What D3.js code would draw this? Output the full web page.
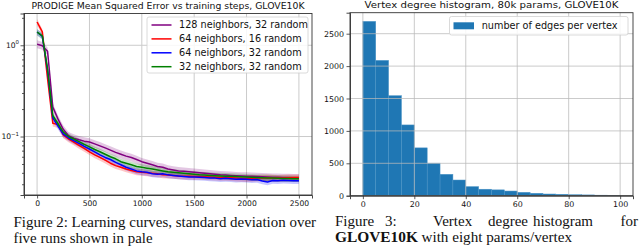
<!DOCTYPE html>
<html><head><meta charset="utf-8">
<script src="https://cdn.jsdelivr.net/npm/d3@7"></script>
<style>
html,body{margin:0;padding:0;background:#fff;}
svg{display:block;}
</style></head>
<body>
<svg id="c" width="640" height="248"></svg>
<script>
// ---------- DATA ----------
const steps = [0,50,100,150,200,250,300,350,400,450,500,550,600,650,700,750,800,850,900,950,1000,1050,1100,1150,1200,1250,1300,1350,1400,1450,1500,1550,1600,1650,1700,1750,1800,1850,1900,1950,2000,2050,2100,2150,2200,2250,2300,2350,2400,2450,2500];
const seriesNames = ["128 neighbors, 32 random","64 neighbors, 16 random","64 neighbors, 32 random","32 neighbors, 32 random"];
const purple128 = [1.03,0.99,0.86,0.21,0.155,0.12,0.102,0.096,0.092,0.089,0.087,0.083,0.079,0.075,0.071,0.067,0.064,0.061,0.059,0.056,0.053,0.051,0.049,0.047,0.046,0.044,0.043,0.042,0.0415,0.041,0.0405,0.040,0.0395,0.039,0.0385,0.038,0.0378,0.0375,0.0372,0.037,0.0368,0.0366,0.0364,0.0362,0.036,0.0358,0.0357,0.0356,0.0355,0.0354,0.0353];
const red64_16 = [1.8,1.4,0.43,0.14,0.135,0.104,0.094,0.087,0.08,0.074,0.068,0.063,0.059,0.055,0.051,0.048,0.046,0.044,0.0425,0.041,0.0405,0.04,0.0395,0.039,0.038,0.0378,0.0375,0.037,0.0368,0.0366,0.0365,0.0364,0.0362,0.036,0.0358,0.0356,0.0355,0.0353,0.035,0.0348,0.0346,0.0348,0.035,0.0352,0.0354,0.0352,0.035,0.0352,0.0354,0.0355,0.0355];
const blue64_32 = [1.4,1.25,0.53,0.16,0.13,0.106,0.097,0.09,0.084,0.078,0.073,0.068,0.063,0.059,0.056,0.052,0.049,0.046,0.044,0.042,0.041,0.0405,0.039,0.0385,0.039,0.038,0.0375,0.037,0.0365,0.036,0.036,0.0358,0.0356,0.0352,0.035,0.0345,0.0348,0.0345,0.034,0.0342,0.034,0.0336,0.0338,0.0325,0.0318,0.033,0.0328,0.0332,0.033,0.0327,0.0328];
const green32_32 = [1.39,1.27,0.55,0.17,0.138,0.112,0.1,0.094,0.088,0.082,0.077,0.072,0.068,0.064,0.06,0.057,0.053,0.051,0.049,0.047,0.046,0.045,0.044,0.043,0.042,0.041,0.0405,0.04,0.0395,0.039,0.0385,0.038,0.0378,0.0375,0.0372,0.037,0.0368,0.0366,0.0364,0.0362,0.036,0.0358,0.0356,0.0354,0.0352,0.035,0.0348,0.0347,0.0346,0.0345,0.0344];
const relStd = [0.10,0.08,0.08,0.08];
const lineColors = ["#800080","#ff0000","#0000ff","#008000"];
const xTicksL = [0,500,1000,1500,2000,2500];
const yTicksL = [1,0.1];

const binEdges = [0,5,10,15,20,25,30,35,40,45,50,55,60,65,70,75,80,85,90,95,100];
const binCounts = [2690,2088,1543,1092,738,502,330,242,140,100,90,72,52,37,26,22,15,12,8,5];
const xTicksR = [0,20,40,60,80,100];
const yTicksR = [0,500,1000,1500,2000,2500];

// ---------- DRAW ----------
const svg = d3.select("#c");
const FONT = "DejaVu Sans, sans-serif";
const gridColor = "#cbcbcb";
const spineColor = "#333";

// ---- Left chart ----
const L = {x0:24, x1:312, y0:13.5, y1:195};
const xL = d3.scaleLinear().domain([-125,2625]).range([L.x0,L.x1]);
const yL = d3.scaleLog().domain([0.02286,2.23]).range([L.y1,L.y0]);
const gL = svg.append("g");
svg.append("clipPath").attr("id","clipL").append("rect")
  .attr("x",L.x0).attr("y",L.y0).attr("width",L.x1-L.x0).attr("height",L.y1-L.y0);

gL.append("g").selectAll("line").data(xTicksL).join("line")
  .attr("x1",d=>xL(d)).attr("x2",d=>xL(d)).attr("y1",L.y0).attr("y2",L.y1)
  .attr("stroke",gridColor).attr("stroke-width",1);
gL.append("g").selectAll("line").data(yTicksL).join("line")
  .attr("y1",d=>yL(d)).attr("y2",d=>yL(d)).attr("x1",L.x0).attr("x2",L.x1)
  .attr("stroke",gridColor).attr("stroke-width",1);

const seriesData = [purple128, red64_16, blue64_32, green32_32];
const plotL = gL.append("g").attr("clip-path","url(#clipL)");
seriesData.forEach((vals,i)=>{
  const pts = steps.map((s,j)=>({s, v:vals[j]}));
  const area = d3.area().x(d=>xL(d.s)).y0(d=>yL(d.v*(1-relStd[i]))).y1(d=>yL(d.v*(1+relStd[i])));
  plotL.append("path").attr("d",area(pts)).attr("fill",lineColors[i]).attr("fill-opacity",0.22);
});
seriesData.forEach((vals,i)=>{
  const pts = steps.map((s,j)=>({s, v:vals[j]}));
  const line = d3.line().x(d=>xL(d.s)).y(d=>yL(d.v));
  plotL.append("path").attr("d",line(pts)).attr("fill","none")
    .attr("stroke",lineColors[i]).attr("stroke-width",1.5).attr("stroke-linejoin","round");
});

const axXL = d3.axisBottom(xL).tickValues(xTicksL).tickSize(3.5).tickPadding(2.5).tickFormat(d3.format("d"));
gL.append("g").attr("class","axL").attr("transform",`translate(0,${L.y1})`).call(axXL);
const minorVals = [];
[0.01,0.1,1].forEach(dec=>{for(let k=2;k<=9;k++){const v=dec*k; if(v>0.02286&&v<2.23) minorVals.push(v);}});
gL.append("g").attr("transform",`translate(${L.x0},0)`)
  .call(d3.axisLeft(yL).tickValues(yTicksL).tickSize(3.5).tickFormat(""));
const gyLm = gL.append("g").attr("transform",`translate(${L.x0},0)`)
  .call(d3.axisLeft(yL).tickValues(minorVals).tickSize(2).tickFormat(""));
gyLm.select(".domain").remove();
gL.append("g").selectAll("text").data(yTicksL).join("text")
  .attr("x",L.x0-5).attr("y",d=>yL(d)+2.6).attr("text-anchor","end")
  .attr("font-family",FONT).attr("font-size",7.6).attr("fill","#111")
  .each(function(d){
    const t=d3.select(this);
    t.append("tspan").text("10");
    t.append("tspan").attr("dy",-3.6).attr("font-size",5.4).text(d===1?"0":"\u22121");
  });
gL.append("rect").attr("x",L.x0).attr("y",L.y0).attr("width",L.x1-L.x0).attr("height",L.y1-L.y0)
  .attr("fill","none").attr("stroke",spineColor).attr("stroke-width",0.9);

svg.append("text").attr("x",(L.x0+L.x1)/2).attr("y",9.3).attr("text-anchor","middle")
  .attr("font-family",FONT).attr("font-size",8.4).attr("fill","#111")
  .attr("textLength",273).attr("lengthAdjust","spacingAndGlyphs")
  .text("PRODIGE Mean Squared Error vs training steps, GLOVE10K");

const lg = svg.append("g");
lg.append("rect").attr("x",147).attr("y",17).attr("width",161).attr("height",56).attr("rx",2)
  .attr("fill","#fff").attr("fill-opacity",0.85).attr("stroke","#d0d0d0").attr("stroke-width",0.8);
seriesNames.forEach((n,i)=>{
  const yy = 25 + i*13.9;
  lg.append("line").attr("x1",151.5).attr("x2",171.5).attr("y1",yy).attr("y2",yy)
    .attr("stroke",lineColors[i]).attr("stroke-width",1.5);
  lg.append("text").attr("x",179).attr("y",yy+3.3).attr("font-family",FONT).attr("font-size",9.7)
    .attr("fill","#111").text(n);
});

// ---- Right chart ----
const R = {x0:350, x1:633, y0:12.7, y1:195.7};
const xR = d3.scaleLinear().domain([-5,105]).range([R.x0,R.x1]);
const yR = d3.scaleLinear().domain([0,2824]).range([R.y1,R.y0]);
const gR = svg.append("g");
const bins = binCounts.map((c,i)=>({a:binEdges[i], b:binEdges[i+1], c}));
gR.append("g").selectAll("rect").data(bins).join("rect")
  .attr("x",d=>xR(d.a)).attr("width",d=>xR(d.b)-xR(d.a))
  .attr("y",d=>yR(d.c)).attr("height",d=>yR(0)-yR(d.c))
  .attr("fill","#1f77b4").attr("stroke","#4b93c6").attr("stroke-width",0.5);
gR.append("g").selectAll("line").data(xTicksR).join("line")
  .attr("x1",d=>xR(d)).attr("x2",d=>xR(d)).attr("y1",R.y0).attr("y2",R.y1)
  .attr("stroke","#b8b8b8").attr("stroke-opacity",0.75).attr("stroke-width",1);
gR.append("g").selectAll("line").data(yTicksR).join("line")
  .attr("y1",d=>yR(d)).attr("y2",d=>yR(d)).attr("x1",R.x0).attr("x2",R.x1)
  .attr("stroke","#b8b8b8").attr("stroke-opacity",0.75).attr("stroke-width",1);
gR.append("g").attr("class","axR").attr("transform",`translate(0,${R.y1})`)
  .call(d3.axisBottom(xR).tickValues(xTicksR).tickSize(3.5).tickPadding(2.5).tickFormat(d3.format("d")));
gR.append("g").attr("class","axR").attr("transform",`translate(${R.x0},0)`)
  .call(d3.axisLeft(yR).tickValues(yTicksR).tickSize(3.5).tickPadding(2.5).tickFormat(d3.format("d")));
gR.append("rect").attr("x",R.x0).attr("y",R.y0).attr("width",R.x1-R.x0).attr("height",R.y1-R.y0)
  .attr("fill","none").attr("stroke",spineColor).attr("stroke-width",0.9);

svg.append("text").attr("x",(R.x0+R.x1)/2).attr("y",8.3).attr("text-anchor","middle")
  .attr("font-family",FONT).attr("font-size",8.4).attr("fill","#111")
  .attr("textLength",254).attr("lengthAdjust","spacingAndGlyphs")
  .text("Vertex degree histogram, 80k params, GLOVE10K");

const lr = svg.append("g");
lr.append("rect").attr("x",449.5).attr("y",16.5).attr("width",178.5).attr("height",18.5).attr("rx",2)
  .attr("fill","#fff").attr("fill-opacity",0.85).attr("stroke","#d0d0d0").attr("stroke-width",0.8);
lr.append("rect").attr("x",453.5).attr("y",22.3).attr("width",20.5).attr("height",7).attr("fill","#1f77b4");
lr.append("text").attr("x",481.7).attr("y",29.2).attr("font-family",FONT).attr("font-size",9.7)
  .attr("fill","#111").text("number of edges per vertex");

svg.selectAll(".domain").attr("stroke",spineColor).attr("stroke-width",0.9);
svg.selectAll(".tick line").attr("stroke",spineColor).attr("stroke-width",0.8);
svg.selectAll(".axL .tick text").attr("font-family",FONT).attr("font-size",7.6).attr("fill","#111");
svg.selectAll(".axR .tick text").attr("font-family",FONT).attr("font-size",7.9).attr("fill","#111");

// ---- Captions ----
const SERIF = "Liberation Serif, Times New Roman, serif";
svg.append("text").attr("x",13.5).attr("y",226.5).attr("font-family",SERIF).attr("font-size",15)
  .attr("fill","#111").attr("textLength",302.5).attr("lengthAdjust","spacingAndGlyphs")
  .text("Figure 2: Learning curves, standard deviation over");
svg.append("text").attr("x",13.5).attr("y",242.5).attr("font-family",SERIF).attr("font-size",15)
  .attr("fill","#111").attr("textLength",139).attr("lengthAdjust","spacingAndGlyphs")
  .text("five runs shown in pale");

const capWords = [["Figure",335,"start"],["3:",385,"start"],["Vertex",433,"start"],["degree",488,"start"],["histogram",533,"start"],["for",638,"end"]];
capWords.forEach(w=>{
  svg.append("text").attr("x",w[1]).attr("y",226).attr("text-anchor",w[2])
    .attr("font-family",SERIF).attr("font-size",15).attr("fill","#111").text(w[0]);
});
svg.append("text").attr("x",335).attr("y",242.3).attr("font-family",SERIF).attr("font-size",15)
  .attr("fill","#111").attr("font-weight","bold").attr("textLength",83).attr("lengthAdjust","spacingAndGlyphs")
  .text("GLOVE10K");
svg.append("text").attr("x",421.5).attr("y",242.3).attr("font-family",SERIF).attr("font-size",15)
  .attr("fill","#111").attr("textLength",150.5).attr("lengthAdjust","spacingAndGlyphs")
  .text("with eight params/vertex");
</script>
</body></html>
